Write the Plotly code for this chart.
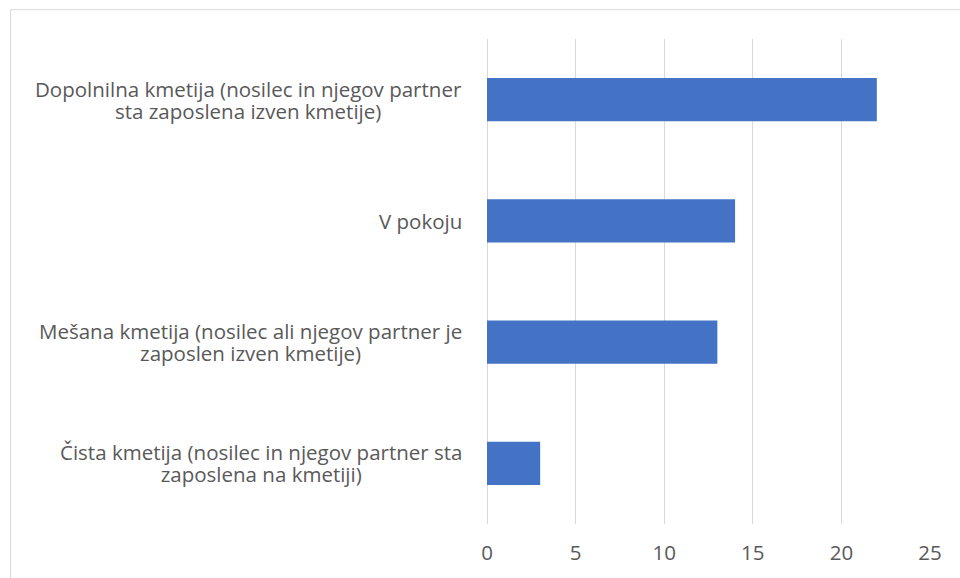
# %% Horizontal bar chart: type of farm

import plotly.graph_objects as go


# %% Data

categories = [
    "Čista kmetija (nosilec in njegov partner sta<br>zaposlena na kmetiji)",
    "Mešana kmetija (nosilec ali njegov partner je<br>zaposlen izven kmetije)",
    "V pokoju",
    "Dopolnilna kmetija (nosilec in njegov partner<br>sta zaposlena izven kmetije)",
]
values = [3, 13, 14, 22]
x_ticks = [0, 5, 10, 15, 20, 25]


# %% Layout numbers (pixels in the 960x578 window)

width_px = 960
height_px = 578
margin = {"l": 487, "r": 30, "t": 39, "b": 51}
plot_w = width_px - margin["l"] - margin["r"]
plot_h = height_px - margin["t"] - margin["b"]

text_color = "#595959"
grid_color = "#D9D9D9"
bar_color = "#4472C4"
font_family = "'Open Sans', Lato, sans-serif"
label_size = 20.5
# base size only drives the line spacing (1.3 * 17 ~ 22 px, as in Excel)
line_base_size = 17


# %% Figure

fig = go.Figure()
fig.add_trace(go.Bar(
    x=values,
    y=categories,
    orientation="h",
    width=0.355,
    marker={"color": bar_color, "line": {"width": 0}},
    hoverinfo="x+y",
))

# category labels as centred multi-line annotations
for cat in categories:
    styled = "<br>".join(
        f"<span style='font-size:{label_size}px'>{line}</span>"
        for line in cat.split("<br>")
    )
    fig.add_annotation(
        x=-23 / plot_w,
        y=cat,
        xref="paper",
        yref="y",
        text=styled,
        showarrow=False,
        xanchor="right",
        yanchor="middle",
        align="center",
        font={"size": line_base_size, "color": text_color, "family": font_family},
    )

# chart-area border (runs off the right and bottom of the window)
fig.add_shape(
    type="rect",
    xref="paper",
    yref="paper",
    x0=(10.5 - margin["l"]) / plot_w,
    x1=1.3,
    y0=-0.3,
    y1=(height_px - margin["b"] - 9.5) / plot_h,
    line={"color": grid_color, "width": 1},
    fillcolor="rgba(0,0,0,0)",
    layer="below",
)

fig.update_layout(
    width=width_px,
    height=height_px,
    margin=margin,
    paper_bgcolor="white",
    plot_bgcolor="white",
    showlegend=False,
    font={"family": font_family, "color": text_color, "size": label_size},
    xaxis={
        "range": [0, 25],
        "tickvals": x_ticks,
        "showgrid": True,
        "gridcolor": grid_color,
        "gridwidth": 1,
        "zeroline": True,
        "zerolinecolor": grid_color,
        "zerolinewidth": 1,
        "showline": False,
        "ticks": "",
        "ticklabelstandoff": 14,
        "tickfont": {"size": label_size, "color": text_color},
        "fixedrange": True,
    },
    yaxis={
        "showticklabels": False,
        "showgrid": False,
        "zeroline": False,
        "showline": False,
        "ticks": "",
        "range": [-0.5, 3.5],
        "fixedrange": True,
    },
)

fig.write_html(
    "out.html",
    config={"displayModeBar": False},
    post_script="document.body.style.margin='0';",
)
